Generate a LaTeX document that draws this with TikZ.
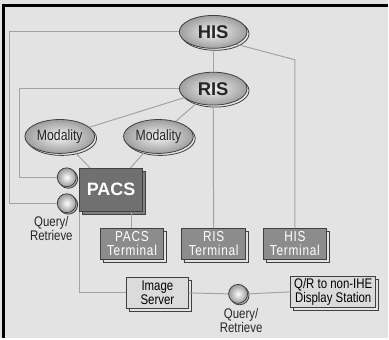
\documentclass[tikz,border=0pt]{standalone}
\usepackage{fontspec}
\setmainfont{Liberation Sans}
\newfontfamily\narrowfont{Liberation Sans}[FakeStretch=0.82]
\newfontfamily\termfont{Liberation Sans}[FakeStretch=0.82,LetterSpace=5]
\usetikzlibrary{shapes,shadows}
\definecolor{bg}{gray}{0.89}
\definecolor{wire}{gray}{0.64}
\definecolor{rim}{gray}{0.25}
\definecolor{pacsgray}{gray}{0.44}
\definecolor{termgray}{gray}{0.55}
\definecolor{servgray}{gray}{0.86}

\begin{document}
\begin{tikzpicture}[x=1pt,y=-1pt,line width=0.8pt,
    sys/.style={ellipse,draw=rim,inner sep=0pt,minimum width=68pt,minimum height=33pt,
      inner color=white!95!black,outer color=black!38,text=black!85,
      font=\fontsize{18.5}{18.5}\selectfont\bfseries,
      general shadow={shadow xshift=2pt,shadow yshift=-2pt,fill=bg,draw=rim}},
    modality/.style={sys,minimum width=70pt,minimum height=34pt,
      font=\narrowfont\fontsize{15}{15}\selectfont},
    port/.style={circle,draw=rim,inner sep=0pt,minimum size=19pt,
      inner color=white,outer color=black!40,
      general shadow={shadow xshift=1.5pt,shadow yshift=-1.5pt,fill=black!30,draw=rim}},
    core/.style={rectangle,draw=rim,fill=pacsgray,text=white,inner sep=0pt,
      minimum width=63pt,minimum height=43pt,
      font=\fontsize{18}{18}\selectfont\bfseries,
      general shadow={shadow xshift=3pt,shadow yshift=-3pt,fill=black!50,draw=rim}},
    term/.style={rectangle,draw=rim,fill=termgray,text=white,inner sep=0pt,align=center,
      minimum width=64pt,minimum height=31pt,
      font=\termfont\fontsize{14.5}{14}\selectfont,
      general shadow={shadow xshift=3pt,shadow yshift=-3pt,fill=bg,draw=rim}},
    serv/.style={term,fill=servgray,text=black,minimum width=62pt,minimum height=32pt,
      font=\narrowfont\fontsize{14}{14}\selectfont},
    caption/.style={align=center,inner sep=0pt,text=black!85,
      font=\narrowfont\fontsize{14}{14}\selectfont},
    wire/.style={draw=wire,line width=1pt}]

  % frame
  \fill[bg] (0,0) rectangle (389,339);
  \draw[line width=3pt,black] (3.5,339) -- (3.5,5.5) -- (389,5.5);

  % systems
  \node[sys]      (HIS) at (214,32)  {HIS};
  \node[sys]      (RIS) at (214,89)  {RIS};
  \node[modality] (M1)  at (60,137)  {Modality};
  \node[modality] (M2)  at (159,137) {Modality};
  \node[core]     (PACS) at (111.5,190.5) {PACS};
  \node[port]     (Q1)  at (67,178)  {};
  \node[port]     (Q2)  at (67,204)  {};
  \node[caption]  (L1)  at (51.5,229) {Query/\\Retrieve};

  % terminals
  \node[term] (PT) at (132.5,244.5) {PACS\\Terminal};
  \node[term] (RT) at (214.5,244.5) {RIS\\Terminal};
  \node[term] (HT) at (296,244.5)   {HIS\\Terminal};

  \node[serv] (IS) at (158,294)    {Image\\Server};
  \node[port] (Q3) at (239,295)    {};
  \node[caption] (L2) at (242,322) {Query/\\Retrieve};
  \node[serv,minimum width=85pt] (QR) at (334.5,293) {Q/R to non-IHE\\Display Station};

  % connectors
  \path[wire] (HIS) edge (RIS)
              (RIS) edge (M1)
                    edge (M2)
                    edge (RT)
              (M1)  edge (PACS)
              (M2)  edge (PACS);
  \draw[wire] (HIS.west) -- (10,32) |- (Q2.west);
  \draw[wire] (RIS.west) -- (20,89) |- (Q1.west);
  \draw[wire] (HIS.-28) -- (HT.north |- 0,60) -- (HT.north);
  \draw[wire] (PT.north) -- (PT.north |- PACS.south);
  \draw[wire] (PACS.south west) |- (IS.west);
  \draw[wire] (IS.east) -- (Q3.west);
  \draw[wire] (Q3.east) -- (QR.west);
\end{tikzpicture}
\end{document}
